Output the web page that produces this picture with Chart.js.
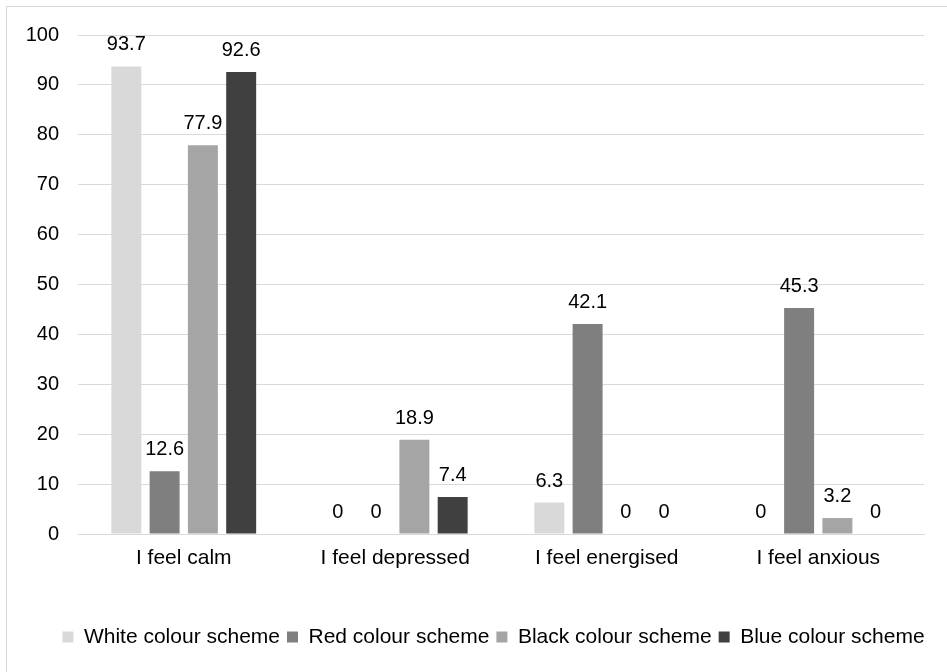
<!DOCTYPE html>
<html>
<head>
<meta charset="utf-8">
<script src="https://cdn.jsdelivr.net/npm/chart.js@4"></script>
<style>
  body { margin: 0; background: #fff; overflow: hidden; }
  #frame { position: absolute; left: 6px; top: 6px; width: 960px; height: 700px; border: 1px solid #d9d9d9; }
  #wrap { position: absolute; left: 0; top: 0; width: 941px; height: 666px; }
</style>
</head>
<body>
<div id="frame"><div id="wrap"><canvas id="myChart"></canvas></div></div>
<script>
var categories = ["I feel calm", "I feel depressed", "I feel energised", "I feel anxious"];
var seriesNames = ["White colour scheme", "Red colour scheme", "Black colour scheme", "Blue colour scheme"];
var whiteScheme = [93.7, 0, 6.3, 0];
var redScheme = [12.6, 0, 42.1, 45.3];
var blackScheme = [77.9, 18.9, 0, 3.2];
var blueScheme = [92.6, 7.4, 0, 0];
var yTicks = [0, 10, 20, 30, 40, 50, 60, 70, 80, 90, 100];

var colours = ['#d9d9d9', '#7f7f7f', '#a5a5a5', '#404040'];
var fontFamily = '"Liberation Sans", Arial, sans-serif';

// draws the value above every bar, zeros included
var valueLabels = {
    id: 'valueLabels',
    afterDatasetsDraw: function(chart) {
        var ctx = chart.ctx;
        ctx.save();
        ctx.font = '20px ' + fontFamily;
        ctx.fillStyle = '#000';
        ctx.textAlign = 'center';
        ctx.textBaseline = 'alphabetic';
        chart.data.datasets.forEach(function(ds, i) {
            chart.getDatasetMeta(i).data.forEach(function(bar, j) {
                ctx.fillText(String(ds.data[j]), bar.x, bar.y - 16);
            });
        });
        ctx.restore();
    }
};

// legend sits centred under the plot area, not the whole canvas
var legendShift = {
    id: 'legendShift',
    afterLayout: function(chart) {
        chart.legend.left += 28;
        chart.legend.right += 28;
    }
};

var ctx = document.getElementById('myChart').getContext('2d');
var chart = new Chart(ctx, {
    type: 'bar',
    data: {
        labels: categories,
        datasets: [whiteScheme, redScheme, blackScheme, blueScheme].map(function(d, i) {
            return {
                label: seriesNames[i],
                data: d,
                backgroundColor: colours[i],
                borderWidth: 0,
                categoryPercentage: 0.724,
                barPercentage: 0.783
            };
        })
    },
    options: {
        responsive: true,
        maintainAspectRatio: false,
        animation: false,
        layout: {
            padding: { top: 28, right: 24, left: 0, bottom: 15.5 }
        },
        plugins: {
            tooltip: { enabled: false },
            legend: {
                position: 'bottom',
                labels: {
                    color: '#000',
                    font: { family: fontFamily, size: 21 },
                    boxWidth: 11,
                    boxHeight: 11,
                    padding: 7
                }
            }
        },
        scales: {
            x: {
                grid: { display: false },
                border: { color: '#d9d9d9', width: 1 },
                ticks: {
                    color: '#000',
                    font: { family: fontFamily, size: 21 },
                    padding: 4
                },
                afterFit: function(scale) { scale.height = 85.5; }
            },
            y: {
                min: 0,
                max: 100,
                afterBuildTicks: function(scale) {
                    scale.ticks = yTicks.map(function(v) { return { value: v }; });
                },
                grid: { color: '#d9d9d9', lineWidth: 1, drawTicks: false },
                border: { display: false },
                ticks: {
                    color: '#000',
                    font: { family: fontFamily, size: 20 },
                    padding: 19
                },
                afterFit: function(scale) {
                    scale.width = 71;
                    scale.paddingTop = 0;
                    scale.paddingBottom = 0;
                }
            }
        }
    },
    plugins: [valueLabels, legendShift]
});
</script>
</body>
</html>
